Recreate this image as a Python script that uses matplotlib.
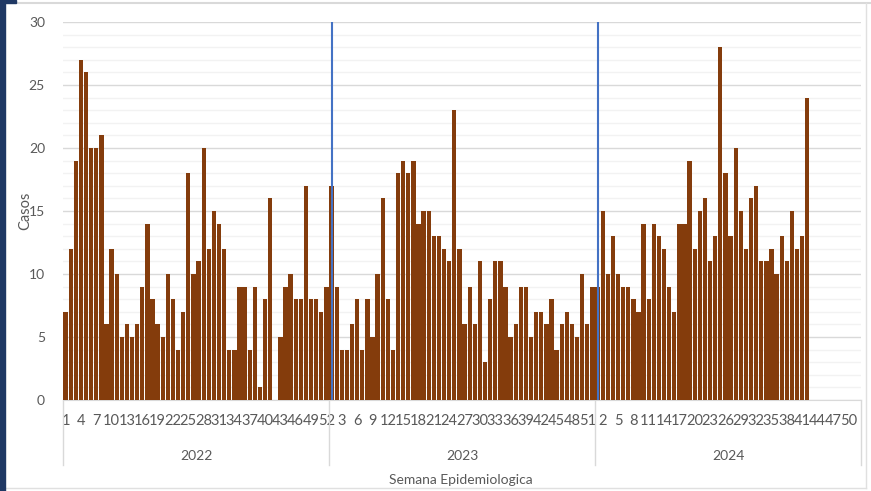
import matplotlib
matplotlib.use("Agg")
import matplotlib.pyplot as plt
from matplotlib.patches import Rectangle
from matplotlib.lines import Line2D
import numpy as np

plt.rcParams['font.family'] = ['Lato', 'DejaVu Sans']

years = ["2022", "2023", "2024"]
cases_2022 = [7, 12, 19, 27, 26, 20, 20, 21, 6, 12, 10, 5, 6, 5, 6, 9, 14, 8, 6, 5,
              10, 8, 4, 7, 18, 10, 11, 20, 12, 15, 14, 12, 4, 4, 9, 9, 4, 9, 1, 8,
              16, 0, 5, 9, 10, 8, 8, 17, 8, 8, 7, 9]
cases_2023 = [17, 9, 4, 4, 6, 8, 4, 8, 5, 10, 16, 8, 4, 18, 19, 18, 19, 14, 15, 15,
              13, 13, 12, 11, 23, 12, 6, 9, 6, 11, 3, 8, 11, 11, 9, 5, 6, 9, 9, 5,
              7, 7, 6, 8, 4, 6, 7, 6, 5, 10, 6, 9]
cases_2024 = [9, 15, 10, 13, 10, 9, 9, 8, 7, 14, 8, 14, 13, 12, 9, 7, 14, 14, 19, 12,
              15, 16, 11, 13, 28, 18, 13, 20, 15, 12, 16, 17, 11, 11, 12, 10, 13, 11, 15, 12,
              13, 24]
weeks_per_year = [52, 52, 52]
week_labels_2022 = [str(w) for w in range(1, 53)]
week_labels_2023 = [str(w) for w in range(1, 53)]
week_labels_2024 = [str(w) for w in range(1, 53)]

W, H = 871, 491
fig = plt.figure(figsize=(W / 100, H / 100), dpi=100)
fig.patch.set_facecolor("white")

def fx(px):
    return px / W

def fy(py):
    return 1 - py / H

ax = fig.add_axes([fx(63), fy(400), fx(861) - fx(63), fy(22) - fy(400)])

series = [cases_2022, cases_2023, cases_2024]
labels_all = week_labels_2022 + week_labels_2023 + week_labels_2024
vals = []
for s, n in zip(series, weeks_per_year):
    vals += list(s) + [0] * (n - len(s))
x = np.arange(len(vals))
ax.bar(x, vals, width=0.84, color="#843C0C", zorder=3)

ax.set_xlim(-0.5, len(vals) - 0.5)
ax.set_ylim(0, 30)
ax.set_yticks(range(0, 31, 5))
ax.set_yticks(range(0, 31, 1), minor=True)
ax.grid(axis="y", which="minor", color="#f2f2f2", lw=1.0, zorder=0)
ax.grid(axis="y", which="major", color="#d9d9d9", lw=1.0, zorder=1)
ax.set_axisbelow(True)
for sp in ["top", "right", "left"]:
    ax.spines[sp].set_visible(False)
ax.spines["bottom"].set_color("#d9d9d9")
ax.tick_params(axis="y", which="both", length=0, pad=13, labelsize=10, labelcolor="#595959")
ax.tick_params(axis="y", which="minor", labelleft=False)

tick_pos = list(range(0, len(vals), 3))
ax.set_xticks(tick_pos)
ax.set_xticklabels([labels_all[i] for i in tick_pos])
ax.tick_params(axis="x", length=0, pad=10, labelsize=10.5, labelcolor="#595959")

# year start markers
starts = np.cumsum([0] + weeks_per_year[:-1])
for s in starts[1:]:
    ax.axvline(s, color="#4472C4", lw=1.5, zorder=4)

# category group separators and year labels
bounds = np.concatenate([[0], np.cumsum(weeks_per_year)]) - 0.5
trans = ax.get_xaxis_transform()
ax_h_px = 400 - 22
for b in bounds:
    ax.add_line(Line2D([b, b], [0, -(465 - 400) / ax_h_px], transform=trans,
                       color="#d9d9d9", lw=1, clip_on=False))
for i, yr in enumerate(years):
    cx = (bounds[i] + bounds[i + 1]) / 2
    ax.text(cx, -(456 - 400) / ax_h_px, yr, transform=trans, ha="center", va="center",
            fontsize=10, color="#595959")

fig.text(fx(461), fy(480), "Semana Epidemiologica", ha="center", va="center",
         fontsize=10, color="#595959")
fig.text(fx(25), fy(211), "Casos", ha="center", va="center", rotation=90,
         fontsize=10.5, color="#595959")

# slide frame decorations
fig.add_artist(Rectangle((0, 0), fx(5), 1, transform=fig.transFigure,
                         color="#1F3864", zorder=10))
fig.add_artist(Rectangle((0, fy(3)), fx(16), 1 - fy(3), transform=fig.transFigure,
                         color="#1F3864", zorder=10))
fig.add_artist(Line2D([fx(16), 1], [fy(3), fy(3)], transform=fig.transFigure,
                      color="#d9d9d9", lw=1.5))
fig.add_artist(Line2D([fx(866), fx(866)], [fy(3), fy(488)], transform=fig.transFigure,
                      color="#e0e0e0", lw=1.0))
fig.add_artist(Line2D([fx(5), fx(866)], [fy(488), fy(488)], transform=fig.transFigure,
                      color="#e0e0e0", lw=1.0))

fig.savefig("out.png", dpi=100)
